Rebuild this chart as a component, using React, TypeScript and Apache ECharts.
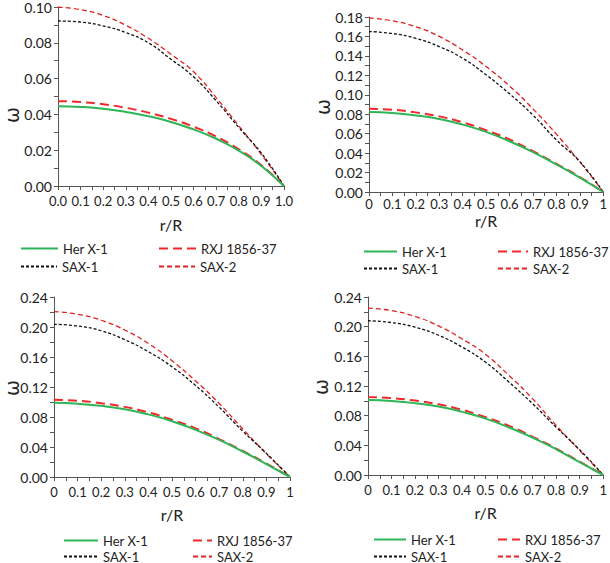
import React, { useEffect, useRef } from 'react';
import * as echarts from 'echarts';

const rR = [0, 0.1, 0.2, 0.3, 0.4, 0.5, 0.6, 0.7, 0.8, 0.9, 1.0];
const seriesNames = ['Her X-1', 'RXJ 1856-37', 'SAX-1', 'SAX-2'];

const p1HerX1 = [0.0446, 0.0442, 0.0432, 0.0414, 0.039, 0.0358, 0.0316, 0.0264, 0.0198, 0.0112, 0];
const p1RXJ = [0.0474, 0.0469, 0.0457, 0.0437, 0.041, 0.0375, 0.0331, 0.0276, 0.0205, 0.0116, 0];
const p1SAX1 = [0.0922, 0.0916, 0.0894, 0.0857, 0.08, 0.0708, 0.061, 0.0476, 0.0327, 0.0183, 0];
const p1SAX2 = [0.1, 0.0985, 0.0953, 0.0898, 0.0825, 0.0736, 0.0638, 0.0494, 0.0336, 0.0176, 0];

const p2HerX1 = [0.0822, 0.0812, 0.0788, 0.0751, 0.0693, 0.0618, 0.0522, 0.041, 0.0283, 0.0147, 0];
const p2RXJ = [0.0857, 0.0846, 0.0819, 0.0778, 0.0717, 0.0635, 0.054, 0.042, 0.029, 0.0154, 0];
const p2SAX1 = [0.165, 0.163, 0.158, 0.1495, 0.1375, 0.1205, 0.101, 0.079, 0.0535, 0.0312, 0];
const p2SAX2 = [0.179, 0.176, 0.17, 0.16, 0.146, 0.129, 0.109, 0.0855, 0.0595, 0.031, 0];

const p3HerX1 = [0.099, 0.0978, 0.0949, 0.0904, 0.0835, 0.0744, 0.0629, 0.0494, 0.034, 0.0172, 0];
const p3RXJ = [0.103, 0.1017, 0.0984, 0.0935, 0.0862, 0.0763, 0.0649, 0.0505, 0.0348, 0.018, 0];
const p3SAX1 = [0.2036, 0.2013, 0.195, 0.183, 0.167, 0.147, 0.122, 0.093, 0.061, 0.0315, 0];
const p3SAX2 = [0.2204, 0.217, 0.209, 0.196, 0.178, 0.155, 0.128, 0.098, 0.064, 0.031, 0];

const p4HerX1 = [0.101, 0.0998, 0.0969, 0.0923, 0.0851, 0.076, 0.0641, 0.0504, 0.0347, 0.0172, 0];
const p4RXJ = [0.105, 0.1036, 0.1003, 0.0953, 0.0879, 0.0778, 0.0662, 0.0515, 0.0355, 0.018, 0];
const p4SAX1 = [0.208, 0.2055, 0.1993, 0.1884, 0.1725, 0.152, 0.125, 0.096, 0.0644, 0.034, 0];
const p4SAX2 = [0.225, 0.2216, 0.2138, 0.201, 0.1835, 0.1626, 0.134, 0.1027, 0.0667, 0.033, 0];

const panelData = [
  [p1HerX1, p1RXJ, p1SAX1, p1SAX2],
  [p2HerX1, p2RXJ, p2SAX1, p2SAX2],
  [p3HerX1, p3RXJ, p3SAX1, p3SAX2],
  [p4HerX1, p4RXJ, p4SAX1, p4SAX2],
];
const yMax = [0.1, 0.18, 0.24, 0.24];
const yInterval = [0.02, 0.02, 0.04, 0.04];
const xDecimals = [1, 0, 0, 0];

const FONT = 'Lato';
const TEXT = '#222';
const AXIS = '#555';

const grids = [
  { left: 58, top: 6, width: 226, height: 180 },
  { left: 369, top: 17, width: 237, height: 175 },
  { left: 54, top: 297, width: 236, height: 180 },
  { left: 368, top: 297, width: 236, height: 178 },
];
const xLabelMargin = [8, 5, 8, 8];
const xNameGap = [30, 20, 29, 29];
const omegaPos = [[12, 115], [323, 107], [12, 388], [321, 387]];
// legend item placement: [left, rowCenter, itemWidth] for each series in order
const legendPos = [
  [[20, 247, 37], [158, 247, 37], [20, 265, 36], [158, 265, 36]],
  [[363, 250, 33], [497, 250, 30], [363, 267, 33], [497, 267, 30]],
  [[63, 539, 34], [192, 539, 19], [63, 555, 34], [192, 555, 19]],
  [[373, 538, 32], [497, 538, 22], [373, 555, 32], [497, 555, 22]],
];

const styles = [
  { color: '#2fb457', width: 2, type: 'solid' as any },
  { color: '#f0282a', width: 2, type: [9, 5] as any },
  { color: '#111', width: 1.3, type: [3, 2] as any },
  { color: '#e02020', width: 1.3, type: [5, 3] as any },
];

export default function App() {
  const ref = useRef<HTMLDivElement>(null);
  useEffect(() => {
    if (!ref.current) return;
    const chart = echarts.init(ref.current, undefined, { renderer: 'svg' });
    const xAxis: any[] = [];
    const yAxis: any[] = [];
    const series: any[] = [];
    const legend: any[] = [];
    const graphic: any[] = [];
    grids.forEach((g, i) => {
      xAxis.push({
        type: 'value', gridIndex: i, min: 0, max: 1, interval: 0.1,
        name: 'r/R', nameLocation: 'middle', nameGap: xNameGap[i],
        nameTextStyle: { fontFamily: FONT, fontSize: 16, color: TEXT },
        axisLine: { show: true, lineStyle: { color: AXIS, width: 1 } },
        axisTick: { show: true, length: 4, lineStyle: { color: AXIS } },
        minorTick: { show: true, splitNumber: 2, length: 4, lineStyle: { color: AXIS } },
        splitLine: { show: false },
        axisLabel: {
          fontFamily: FONT, fontSize: 13, color: TEXT, margin: xLabelMargin[i],
          formatter: (v: number) => xDecimals[i] ? v.toFixed(1) : (v === 0 || v === 1 ? String(v) : v.toFixed(1)),
        },
      });
      yAxis.push({
        type: 'value', gridIndex: i, min: 0, max: yMax[i], interval: yInterval[i],
        axisLine: { show: true, lineStyle: { color: AXIS, width: 1 } },
        axisTick: { show: true, length: 4, lineStyle: { color: AXIS } },
        minorTick: { show: true, splitNumber: 2, length: 4, lineStyle: { color: AXIS } },
        splitLine: { show: false },
        axisLabel: { fontFamily: FONT, fontSize: 14, color: TEXT, margin: 6, formatter: (v: number) => v.toFixed(2) },
      });
      panelData[i].forEach((arr, k) => {
        series.push({
          type: 'line', name: seriesNames[k], xAxisIndex: i, yAxisIndex: i,
          data: rR.map((x, j) => [x, arr[j]]),
          smooth: true, symbol: 'none', lineStyle: styles[k], itemStyle: { color: styles[k].color },
          z: 4 - k,
        });
        const lp = legendPos[i][k];
        legend.push({
          orient: 'horizontal', left: lp[0], top: lp[1] - 5, itemWidth: lp[2], itemHeight: 10,
          selectedMode: false, padding: 0, data: [seriesNames[k]],
          itemStyle: { opacity: 0 },
          textStyle: { fontFamily: FONT, fontSize: 13, color: TEXT },
        });
      });
      graphic.push({
        type: 'text', x: omegaPos[i][0], y: omegaPos[i][1], rotation: Math.PI / 2,
        style: { text: 'ω', fontFamily: 'DejaVu Sans', fontSize: 19, fill: TEXT, align: 'center', verticalAlign: 'middle' },
      });
    });
    chart.setOption({
      animation: false,
      backgroundColor: '#fff',
      grid: grids.map((g) => ({ ...g, containLabel: false })),
      xAxis, yAxis, series, legend, graphic,
    });
    return () => chart.dispose();
  }, []);
  return <div ref={ref} style={{ position: 'fixed', left: 0, top: 0, width: 610, height: 563 }} />;
}
